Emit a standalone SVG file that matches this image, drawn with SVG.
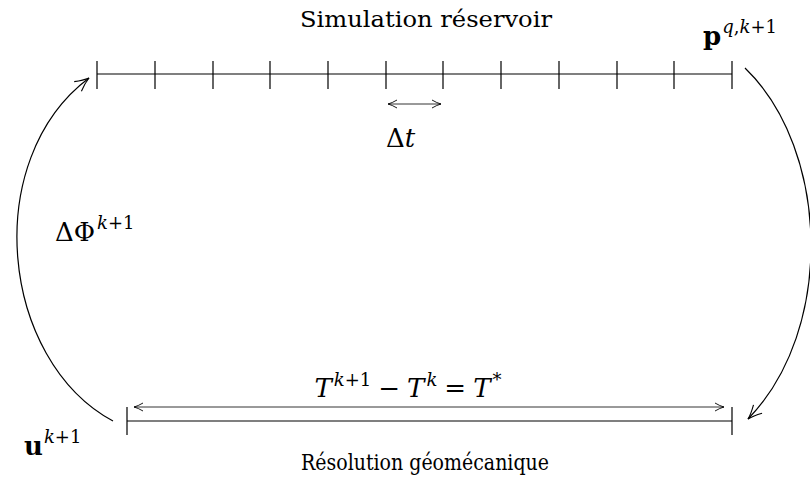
<svg xmlns="http://www.w3.org/2000/svg" width="810" height="483" viewBox="0 0 810 483">
<style>
text{font-family:'DejaVu Serif',serif;fill:#000}
.ln{stroke:#000;stroke-width:1.2;fill:none}
.thin{stroke:#000;stroke-width:0.8;fill:none}
.i{font-style:italic}
.b{font-weight:bold}
</style>
<defs>
<marker id="ah" viewBox="-10 -6 12 12" markerWidth="12" markerHeight="12" refX="0" refY="0" orient="auto-start-reverse" markerUnits="userSpaceOnUse">
<path d="M-9,-4 Q-4,-1 0,0 Q-4,1 -9,4" fill="none" stroke="#000" stroke-width="0.9"/>
</marker>
<marker id="ah2" viewBox="-16 -8 18 16" markerWidth="18" markerHeight="16" refX="0" refY="0" orient="auto" markerUnits="userSpaceOnUse">
<path d="M-14,-6 Q-6,-1.5 0,0 Q-6,1.5 -14,6" fill="none" stroke="#000" stroke-width="1.1"/>
</marker>
</defs>
<g id="reservoir">
<path class="ln" d="M97,74 H732"/>
<path class="ln" d="M97,61 V89 M155,61 V89 M213,61 V89 M270,61 V89 M328,61 V89 M386,61 V89 M443,61 V89 M501,61 V89 M559,61 V89 M617,61 V89 M674,61 V89 M732,61 V89"/>
<text x="426" y="27" font-size="22" text-anchor="middle" textLength="252" lengthAdjust="spacingAndGlyphs">Simulation réservoir</text>
<path class="thin" d="M388,104 H441" marker-start="url(#ah)" marker-end="url(#ah)"/>
<text x="386" y="147" font-size="26">Δ<tspan class="i">t</tspan></text>
<text x="703" y="45" font-size="26"><tspan class="b">p</tspan><tspan class="i" font-size="18" dy="-12" dx="1">q</tspan><tspan font-size="18">,</tspan><tspan class="i" font-size="18">k</tspan><tspan font-size="18">+1</tspan></text>
</g>
<g id="geomecanique">
<path class="ln" d="M127,421 H732"/>
<path class="ln" d="M127,407 V435 M732,407 V435"/>
<path class="thin" d="M134,407 H724" marker-start="url(#ah)" marker-end="url(#ah)"/>
<text x="408" y="397" font-size="26" text-anchor="middle"><tspan class="i">T</tspan><tspan class="i" font-size="18" dy="-11" dx="2">k</tspan><tspan font-size="18">+1</tspan><tspan dy="11" dx="7">−</tspan><tspan class="i" dx="7">T</tspan><tspan class="i" font-size="18" dy="-11" dx="2">k</tspan><tspan dy="11" dx="7">=</tspan><tspan class="i" dx="7">T</tspan><tspan font-size="18" dy="-11" dx="2">*</tspan></text>
<text x="425" y="470" font-size="22" text-anchor="middle" textLength="248" lengthAdjust="spacingAndGlyphs">Résolution géomécanique</text>
<text x="24" y="455" font-size="26"><tspan class="b">u</tspan><tspan class="i" font-size="18" dy="-12" dx="1">k</tspan><tspan font-size="18">+1</tspan></text>
</g>
<g id="connectors">
<path class="ln" d="M113,421 C0,360 -20,160 89,78" marker-end="url(#ah2)"/>
<path class="ln" d="M745,68 C830,150 835,330 748,419" marker-end="url(#ah2)"/>
<text x="55" y="241" font-size="26">ΔΦ<tspan class="i" font-size="18" dy="-12" dx="2">k</tspan><tspan font-size="18">+1</tspan></text>
</g>
</svg>
